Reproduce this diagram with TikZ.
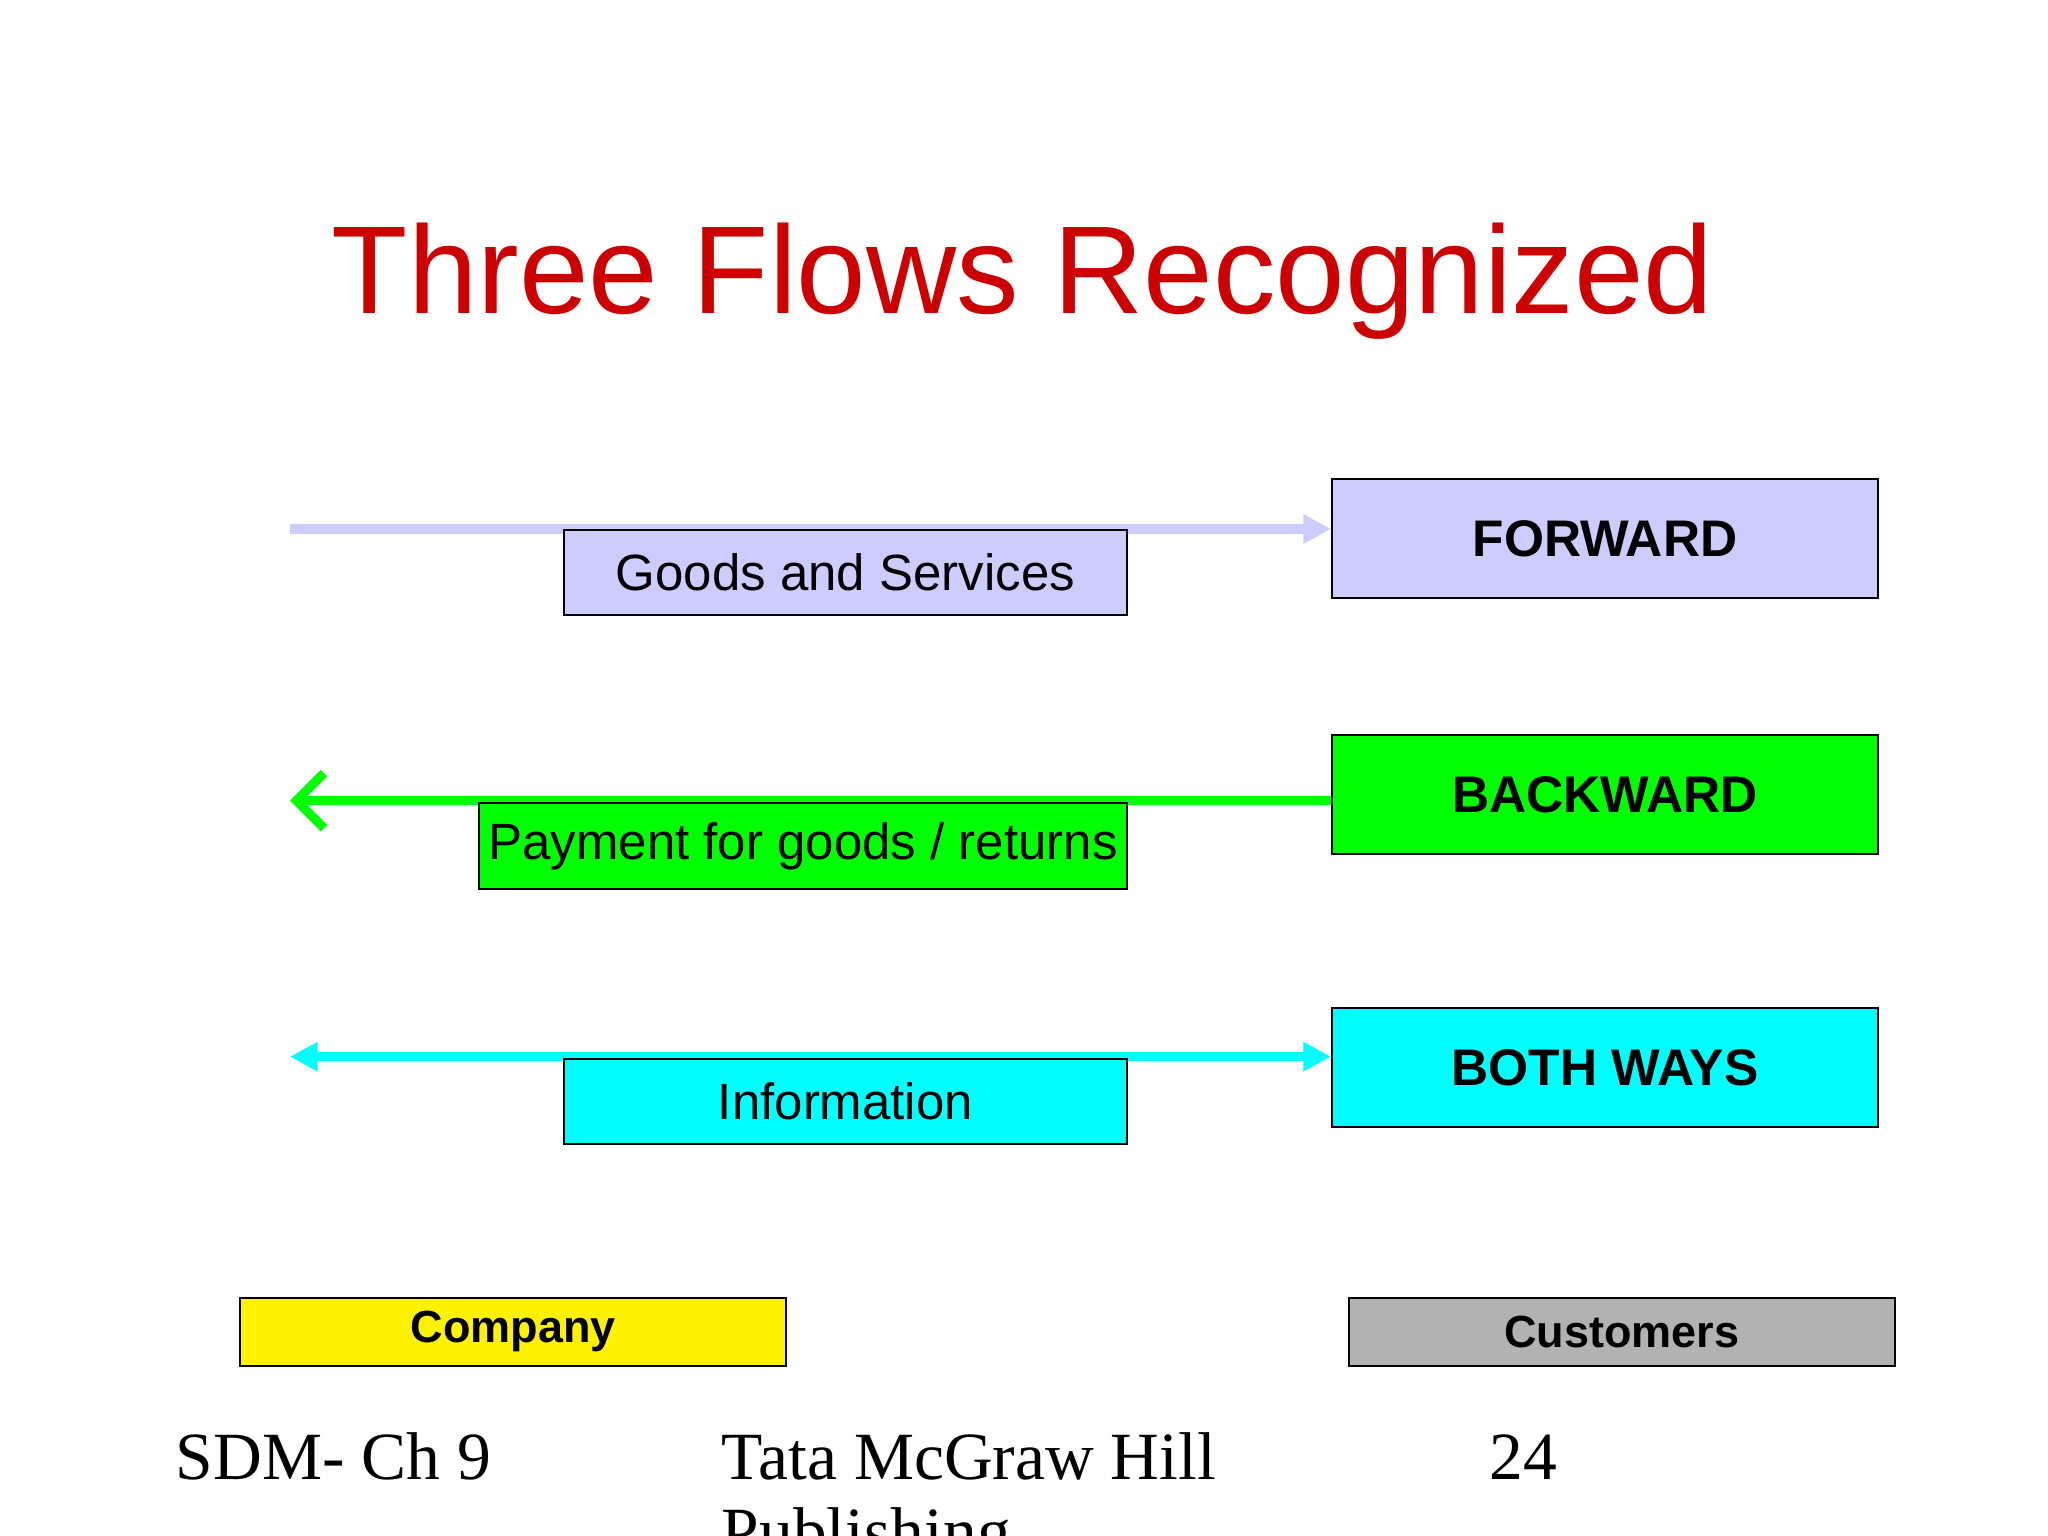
\documentclass[tikz,border=0pt]{standalone}
\usepackage{fontspec}
\setmainfont{Liberation Sans}
\newfontfamily\serifft{Liberation Serif}
\usetikzlibrary{arrows.meta}
\definecolor{lav}{rgb}{0.8,0.8,1}
\definecolor{ttl}{rgb}{0.8,0,0}
\definecolor{cy}{rgb}{0,1,1}
\definecolor{gr}{rgb}{0,1,0}
\begin{document}
\begin{tikzpicture}[x=0.01cm,y=-0.01cm,
  box/.style={draw=black,line width=0.4pt,inner sep=0,anchor=north west},
  big/.style={box,minimum width=4.18cm,minimum height=0.91cm,font=\fontsize{11.2}{13}\selectfont\bfseries},
  lab/.style={box,minimum height=0.65cm,font=\fontsize{11.1}{13}\selectfont},
  bot/.style={box,minimum width=4.18cm,minimum height=0.52cm,font=\fontsize{9.8}{12}\selectfont\bfseries},
  flow/.style={line width=2pt},
  foot/.style={anchor=base west,font=\serifft\fontsize{14.7}{17}\selectfont,inner sep=0}]
\clip (0,0) rectangle (1568,1176);
\fill[white] (0,0) rectangle (1568,1176);
\node[text=ttl,font=\fontsize{27.2}{32}\selectfont,anchor=base] (title) at (783,240) {Three Flows Recognized};
% forward
\coordinate (fs) at (222,405);
\node[big,fill=lav] (fwd) at (1019,366) {FORWARD};
\draw[flow,lav,-{Triangle[length=6pt,width=6pt]}] (fs) -- (fwd.west |- fs);
\node[lab,fill=lav,minimum width=4.31cm] (gs) at (431,405) {Goods and Services};
% backward
\coordinate (bs) at (222,613);
\node[big,fill=gr] (bwd) at (1019,562) {BACKWARD};
\draw[flow,gr,-{Straight Barb[length=6pt,width=12pt,line width=2pt]}] (bwd.west |- bs) -- (bs);
\node[lab,fill=gr,minimum width=4.96cm,minimum height=0.66cm] (pay) at (366,614) {Payment for goods / returns};
% both
\coordinate (cs) at (222,809);
\node[big,fill=cy] (both) at (1019,771) {BOTH WAYS};
\draw[flow,cy,{Triangle[length=6pt,width=6pt]}-{Triangle[length=6pt,width=6pt]}] (cs) -- (both.west |- cs);
\node[lab,fill=cy,minimum width=4.31cm] (info) at (431,810) {Information};
% bottom
\node[bot,fill=yellow] (comp) at (183,993) {Company};
\node[bot,fill=black!30] (cust) at (1032,993) {Customers};
% footer
\node[foot] (f1) at (134,1133) {SDM- Ch 9};
\node[foot] (f2) at (552,1133) {Tata McGraw Hill};
\node[foot] (f3) at (552,1190) {Publishing};
\node[foot] (f4) at (1140,1133) {24};
\end{tikzpicture}
\end{document}
